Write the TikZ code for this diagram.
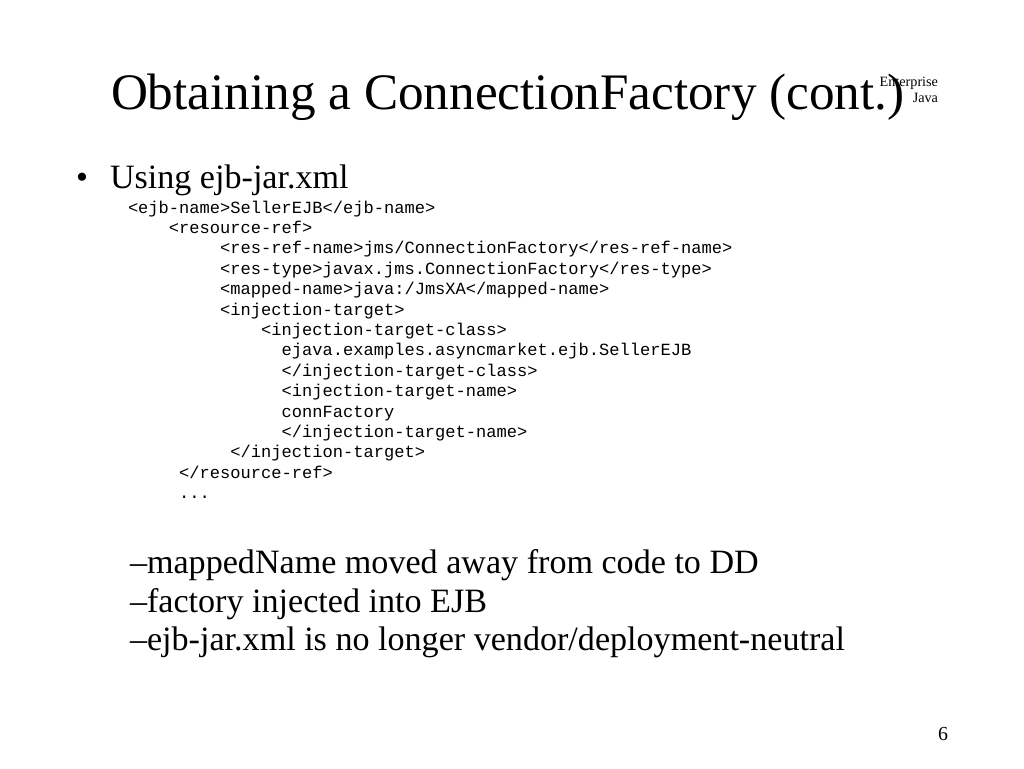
\documentclass[tikz,border=0pt]{standalone}
\usepackage{fontspec}
\setmainfont{Liberation Serif}
\newfontfamily\codefont{Liberation Mono}
\tikzset{
  txt/.style={anchor=base west, inner sep=0pt, outer sep=0pt},
  titletxt/.style={txt, font=\fontsize{51.2}{60}\selectfont},
  bodytxt/.style={txt, font=\fontsize{34.1}{40}\selectfont},
  codetxt/.style={txt, font=\codefont\fontsize{17.07}{20}\selectfont},
  smalltxt/.style={anchor=base east, inner sep=0pt, outer sep=0pt, font=\fontsize{14.2}{16}\selectfont},
  pagetxt/.style={anchor=base east, inner sep=0pt, outer sep=0pt, font=\fontsize{19.9}{22}\selectfont}
}
\begin{document}
\begin{tikzpicture}[x=1pt,y=-1pt]
\useasboundingbox[fill=white] (0,0) rectangle (1024,768);
\node[titletxt] (title) at (111,109) {Obtaining a ConnectionFactory (cont.)};
\node[smalltxt] (ent) at (938,86) {Enterprise};
\node[smalltxt] (java) at (938,102) {Java};
\node[bodytxt] (bul) at (76,188) {•};
\node[bodytxt] (using) at (110,188) {Using ejb-jar.xml};
\def\cx#1{128+#1*10.24}
\node[codetxt] (c1) at ({\cx{0}},213) {<ejb-name>SellerEJB</ejb-name>};
\node[codetxt] (c2) at ({\cx{4}},233.4) {<resource-ref>};
\node[codetxt] (c3) at ({\cx{9}},253.8) {<res-ref-name>jms/ConnectionFactory</res-ref-name>};
\node[codetxt] (c4) at ({\cx{9}},274.2) {<res-type>javax.jms.ConnectionFactory</res-type>};
\node[codetxt] (c5) at ({\cx{9}},294.6) {<mapped-name>java:/JmsXA</mapped-name>};
\node[codetxt] (c6) at ({\cx{9}},315) {<injection-target>};
\node[codetxt] (c7) at ({\cx{13}},335.4) {<injection-target-class>};
\node[codetxt] (c8) at ({\cx{15}},355.8) {ejava.examples.asyncmarket.ejb.SellerEJB};
\node[codetxt] (c9) at ({\cx{15}},376.2) {</injection-target-class>};
\node[codetxt] (c10) at ({\cx{15}},396.6) {<injection-target-name>};
\node[codetxt] (c11) at ({\cx{15}},417) {connFactory};
\node[codetxt] (c12) at ({\cx{15}},437.4) {</injection-target-name>};
\node[codetxt] (c13) at ({\cx{10}},457.8) {</injection-target>};
\node[codetxt] (c14) at ({\cx{5}},478.2) {</resource-ref>};
\node[codetxt] (c15) at ({\cx{5}},498.6) {...};
\node[bodytxt] (d1) at (130,573) {–mappedName moved away from code to DD};
\node[bodytxt] (d2) at (130,612) {–factory injected into EJB};
\node[bodytxt] (d3) at (130,650) {–ejb-jar.xml is no longer vendor/deployment-neutral};
\node[pagetxt] (pg) at (948,740) {6};
\end{tikzpicture}
\end{document}
